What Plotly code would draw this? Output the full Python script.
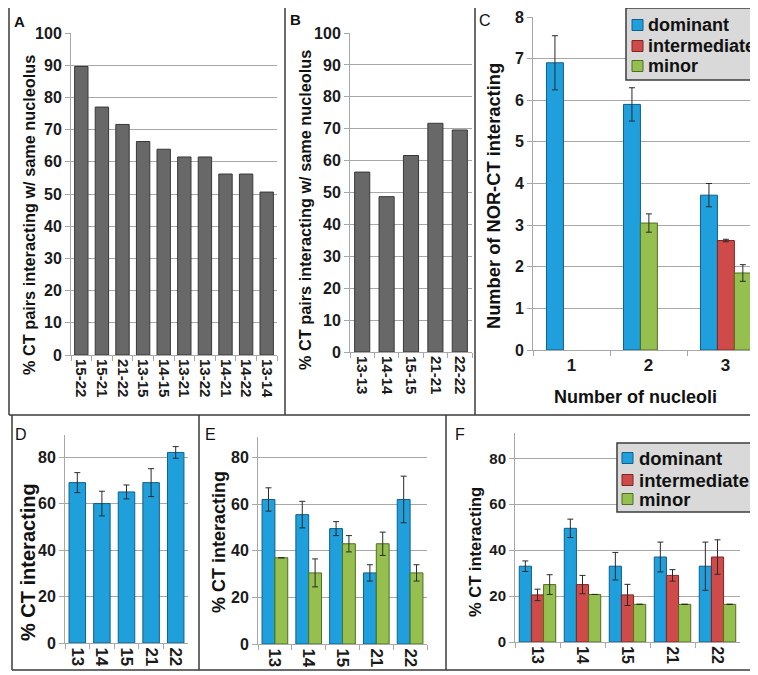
import plotly.graph_objects as go

# the page body adds an 8px margin, so the figure is 750x667 and sits at (8, 8)
OFF = 8
W, H = 758 - OFF, 675 - OFF

# ---------------- data ----------------
pairs_A = ["15-22", "15-21", "21-22", "13-15", "14-15", "13-21", "13-22", "14-21", "14-22", "13-14"]
pct_A = [89.6, 77.0, 71.6, 66.3, 63.9, 61.5, 61.5, 56.2, 56.2, 50.6]

pairs_B = ["13-13", "14-14", "15-15", "21-21", "22-22"]
pct_B = [56.4, 48.7, 61.6, 71.7, 69.6]

nucleoli = ["1", "2", "3"]
nor_dom = [6.9, 5.9, 3.72]
nor_dom_err = [0.65, 0.4, 0.28]
nor_int = [None, None, 2.63]
nor_int_err = [0, 0, 0.03]
nor_min = [None, 3.05, 1.85]
nor_min_err = [0, 0.22, 0.2]

chrom = ["13", "14", "15", "21", "22"]
D_dom = [69, 60, 65, 69, 82]
D_dom_err = [4.3, 5.3, 3.0, 6.0, 2.5]

E_dom = [62, 55.5, 49.5, 30.5, 62]
E_dom_err = [5, 5.7, 3, 3.5, 10]
E_min = [37, 30.5, 43, 43, 30.5]
E_min_err = [0, 6, 3.5, 5, 3.5]

F_dom = [33, 49.5, 33, 37, 33]
F_dom_err = [2.3, 4, 6, 6.5, 10.5]
F_int = [20.5, 25, 20.5, 29, 37]
F_int_err = [2.5, 4, 4.6, 2.5, 7.5]
F_min = [25, 20.7, 16.4, 16.4, 16.4]
F_min_err = [4.3, 0, 0, 0, 0]

series_names = ["dominant", "intermediate", "minor"]

# ---------------- style ----------------
GRAY_BAR = "#686868"
BLUE = "#1fa0dc"
RED = "#cf4b49"
GREEN = "#95bf4f"
OUT = {BLUE: "#0f5f8a", RED: "#7e2624", GREEN: "#4f6e22"}
GRID = "#a8a8a8"
ARIAL = "Liberation Sans"


def px(x):
    return (x - OFF) / W


def py(y):
    return 1 - (y - OFF) / H


def err(arr):
    return dict(type="data", array=arr, visible=True, color="#2a2a2a", thickness=1, width=3)


fig = go.Figure()


def bar(x, y, xa, ya, color, outline, width, offset=None, e=None):
    kw = dict(x=x, y=y, xaxis=xa, yaxis=ya, width=width,
              marker=dict(color=color, line=dict(color=outline, width=1)),
              showlegend=False, hoverinfo="skip")
    if offset is not None:
        kw["offset"] = offset
    if e is not None:
        kw["error_y"] = err(e)
    fig.add_trace(go.Bar(**kw))


# A
bar(pairs_A, pct_A, "x", "y", GRAY_BAR, "#383838", 0.65)
# B
bar(pairs_B, pct_B, "x2", "y2", GRAY_BAR, "#383838", 0.62)
# C
wC = 0.22
bar(nucleoli, nor_dom, "x3", "y3", BLUE, OUT[BLUE], wC, offset=-0.325, e=nor_dom_err)
bar(nucleoli, nor_int, "x3", "y3", RED, OUT[RED], wC, offset=-0.105, e=nor_int_err)
bar(nucleoli, nor_min, "x3", "y3", GREEN, OUT[GREEN], wC, offset=[0.115, -0.105, 0.115], e=nor_min_err)
# D
bar(chrom, D_dom, "x4", "y4", BLUE, OUT[BLUE], 0.67, e=D_dom_err)
# E
bar(chrom, E_dom, "x5", "y5", BLUE, OUT[BLUE], 0.38, offset=-0.38, e=E_dom_err)
bar(chrom, E_min, "x5", "y5", GREEN, OUT[GREEN], 0.38, offset=0.0, e=E_min_err)
# F
wF = 0.27
bar(chrom, F_dom, "x6", "y6", BLUE, OUT[BLUE], wF, offset=-0.405, e=F_dom_err)
bar(chrom, F_int, "x6", "y6", RED, OUT[RED], wF, offset=-0.135, e=F_int_err)
bar(chrom, F_min, "x6", "y6", GREEN, OUT[GREEN], wF, offset=0.135, e=F_min_err)


def yax(dom, rng, dtick, size, anchor):
    return dict(domain=dom, range=rng, dtick=dtick, tick0=0, anchor=anchor,
                automargin=False,
                showgrid=True, gridcolor=GRID, gridwidth=1,
                showline=True, linecolor=GRID, linewidth=1,
                ticks="outside", ticklen=5, tickcolor=GRID,
                zeroline=False, fixedrange=True,
                tickfont=dict(family=ARIAL, size=size, color="#1a1a1a", weight="bold"))


def xax(dom, n, size, anchor, angle=90, rng=None):
    return dict(domain=dom, range=rng if rng else [-0.5, n - 0.5], anchor=anchor,
                automargin=False,
                type="category", showgrid=False, showline=True, linecolor=GRID, linewidth=1,
                ticks="outside", ticklen=5, tickcolor=GRID, tickson="boundaries",
                tickangle=angle, zeroline=False, fixedrange=True,
                tickfont=dict(family=ARIAL, size=size, color="#1a1a1a", weight="bold"))


fig.update_layout(
    width=W, height=H, margin=dict(l=0, r=0, t=0, b=0, autoexpand=False),
    paper_bgcolor="white", plot_bgcolor="white",
    barmode="overlay", showlegend=False,
    xaxis=xax([px(71), px(277)], 10, 15, "y"),
    yaxis=yax([py(355), py(33)], [0, 100], 10, 16, "x"),
    xaxis2=xax([px(350), px(472)], 5, 15, "y2"),
    yaxis2=yax([py(352), py(33)], [0, 100], 10, 16, "x2"),
    xaxis3=xax([px(533), 1.0], 3, 17, "y3", angle=0, rng=[-0.5, 2.422]),
    yaxis3=yax([py(350), py(17)], [0, 8], 1, 16, "x3"),
    xaxis4=xax([px(65), px(188)], 5, 17, "y4"),
    yaxis4=yax([py(643), py(435)], [0, 89.5], 20, 16, "x4"),
    xaxis5=xax([px(258), px(427)], 5, 17, "y5"),
    yaxis5=yax([py(644), py(437)], [0, 88.8], 20, 16, "x5"),
    xaxis6=xax([px(515), px(740)], 5, 16, "y6"),
    yaxis6=yax([py(642), py(433)], [0, 91], 20, 15, "x6"),
)

# panel borders
BC = "#3a3a3a"
lines = [
    (9, 5, 758, 5), (9, 5, 9, 415), (9, 415, 758, 415),
    (285, 5, 285, 415), (475, 5, 475, 415),
    (12, 415, 12, 670), (12, 670, 758, 670),
    (199, 415, 199, 670), (446, 415, 446, 670),
]
for x0, y0, x1, y1 in lines:
    fig.add_shape(type="line", xref="paper", yref="paper",
                  x0=px(x0), y0=py(y0), x1=px(x1), y1=py(y1),
                  line=dict(color=BC, width=1.5))


def ann(text, x, y, size, angle=0, bold=True, xanchor="center", yanchor="middle"):
    fig.add_annotation(text=text, x=px(x), y=py(y), xref="paper", yref="paper",
                       showarrow=False, textangle=angle, xanchor=xanchor, yanchor=yanchor,
                       font=dict(family=ARIAL, size=size, color="#111",
                                 weight="bold" if bold else "normal"))


# legends (boxes with colour keys and labels)
def legend_box(x0, y0, x1, y1, sym_x, text_x, rows, size):
    fig.add_shape(type="rect", xref="paper", yref="paper",
                  x0=px(x0), y0=py(y0), x1=px(x1), y1=py(y1),
                  fillcolor="#d9d9d9", line=dict(color="#3c3c3c", width=1.5), layer="above")
    for name, color, yc in zip(series_names, [BLUE, RED, GREEN], rows):
        fig.add_shape(type="rect", xref="paper", yref="paper",
                      x0=px(sym_x), y0=py(yc + 5.5), x1=px(sym_x + 11), y1=py(yc - 5.5),
                      fillcolor=color, line=dict(color=OUT[color], width=1), layer="above")
        ann(name, text_x, yc, size, xanchor="left")


legend_box(626, 8, 756, 80, 632, 646, [25, 46, 66], 18)
legend_box(617, 443, 755, 512, 622, 637, [458, 480, 499], 18.5)

# panel letters
ann("A", 12, 21, 15, xanchor="left")
ann("B", 288, 19, 15, xanchor="left")
ann("C", 477, 20, 16, bold=False, xanchor="left")
ann("D", 13, 434, 16, bold=False, xanchor="left")
ann("E", 203, 434, 16, bold=False, xanchor="left")
ann("F", 453, 434, 16, bold=False, xanchor="left")

# axis titles
ann("% CT pairs interacting w/ same nucleolus", 29, 215, 16.3, angle=-90)
ann("% CT pairs interacting w/ same nucleolus", 305, 210, 16.3, angle=-90)
ann("Number of NOR-CT interacting", 493, 196, 18.3, angle=-90)
ann("Number of nucleoli", 635, 397, 18)
ann("% CT interacting", 28, 562, 20, angle=-90)
ann("% CT interacting", 219, 542, 18, angle=-90)
ann("% CT interacting", 475, 552, 16.5, angle=-90)

fig.write_html("out.html")
